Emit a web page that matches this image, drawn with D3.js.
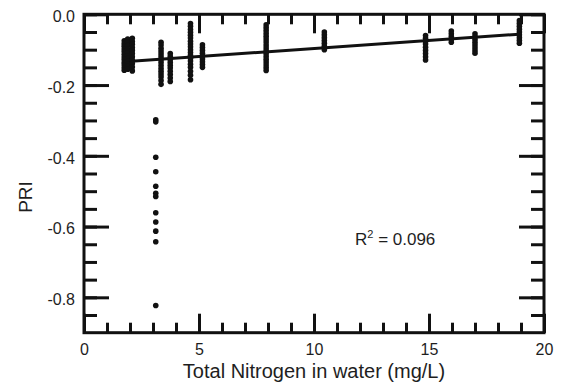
<!DOCTYPE html>
<html>
<head>
<meta charset="utf-8">
<script src="https://cdn.jsdelivr.net/npm/d3@7"></script>
<style>
  html, body { margin: 0; padding: 0; background: #fff; }
  svg { display: block; font-family: Arial, "Liberation Sans", Helvetica, sans-serif; }
</style>
</head>
<body>
<svg id="chart" width="561" height="387"></svg>
<script>
// Sampling sites: total nitrogen concentration (mg/L) and PRI readings at each site
const nitrogen = [1.75, 1.9, 2.1, 3.12, 3.35, 3.75, 4.63, 5.15, 7.92, 10.45, 14.85, 15.97, 17.0, 18.93];
const priValues = [
  [-0.075, -0.083, -0.09, -0.098, -0.105, -0.113, -0.121, -0.128, -0.136, -0.143, -0.151, -0.158],
  [-0.07, -0.079, -0.088, -0.099, -0.109, -0.117, -0.125, -0.133, -0.141, -0.148, -0.155],
  [-0.068, -0.077, -0.085, -0.094, -0.102, -0.111, -0.12, -0.129, -0.139, -0.149, -0.16],
  [-0.298, -0.304, -0.404, -0.445, -0.486, -0.506, -0.515, -0.561, -0.587, -0.613, -0.643, -0.823],
  [-0.079, -0.087, -0.096, -0.104, -0.112, -0.12, -0.128, -0.136, -0.145, -0.153, -0.161, -0.169, -0.177, -0.187, -0.198],
  [-0.111, -0.119, -0.128, -0.136, -0.144, -0.152, -0.161, -0.17, -0.18, -0.19],
  [-0.026, -0.034, -0.043, -0.051, -0.059, -0.067, -0.076, -0.084, -0.092, -0.1, -0.108, -0.116, -0.124, -0.132, -0.141, -0.15, -0.161, -0.172, -0.185],
  [-0.086, -0.094, -0.102, -0.11, -0.118, -0.126, -0.134, -0.142, -0.15],
  [-0.03, -0.038, -0.046, -0.054, -0.062, -0.07, -0.078, -0.087, -0.095, -0.103, -0.111, -0.119, -0.127, -0.135, -0.143, -0.151, -0.159],
  [-0.05, -0.058, -0.066, -0.074, -0.082, -0.09, -0.1],
  [-0.06, -0.068, -0.076, -0.084, -0.093, -0.102, -0.111, -0.12, -0.129],
  [-0.047, -0.055, -0.063, -0.071, -0.079],
  [-0.055, -0.063, -0.071, -0.079, -0.087, -0.095, -0.103, -0.11],
  [-0.018, -0.026, -0.034, -0.042, -0.05, -0.058, -0.066, -0.074, -0.082]
];

// Linear fit of PRI on nitrogen
const fitSlope = 0.00454;
const fitIntercept = -0.142;
const fitLabel = "0.096";

// Axis ticks
const xMajorTicks = [0, 5, 10, 15, 20];
const xMinorTicks = d3.range(0, 21, 1);
const yMajorTicks = [0, -0.2, -0.4, -0.6, -0.8];
const yMinorTicks = d3.range(0, 18).map(i => -i * 0.05);

const points = nitrogen.flatMap((n, i) => priValues[i].map(p => ({ n, p })));

const svg = d3.select("#chart");
const plotLeft = 84, plotRight = 544, plotTop = 14.3, plotBottom = 332.7;

const x = d3.scaleLinear().domain([0, 20]).range([plotLeft, plotRight]);
const y = d3.scaleLinear().domain([-0.9, 0]).range([plotBottom, plotTop]);

const ink = "#111";
const textInk = "#1e1e1e";

function styleAxis(g) {
  g.select(".domain").remove();
  g.selectAll(".tick line").attr("stroke", ink).attr("stroke-width", 3);
  g.selectAll(".tick text").attr("fill", textInk).style("font-size", "16px")
    .style("font-family", "Arial, 'Liberation Sans', Helvetica, sans-serif");
}

// Minor ticks on all four sides
svg.append("g").attr("transform", `translate(0,${plotBottom})`)
  .call(d3.axisBottom(x).tickValues(xMinorTicks).tickSize(-10).tickFormat(""))
  .call(styleAxis);
svg.append("g").attr("transform", `translate(0,${plotTop})`)
  .call(d3.axisTop(x).tickValues(xMinorTicks).tickSize(-10).tickFormat(""))
  .call(styleAxis);
svg.append("g").attr("transform", `translate(${plotLeft},0)`)
  .call(d3.axisLeft(y).tickValues(yMinorTicks).tickSize(-13).tickFormat(""))
  .call(styleAxis);
svg.append("g").attr("transform", `translate(${plotRight},0)`)
  .call(d3.axisRight(y).tickValues(yMinorTicks).tickSize(-13).tickFormat(""))
  .call(styleAxis);

// Major ticks with labels
svg.append("g").attr("transform", `translate(0,${plotBottom})`)
  .call(d3.axisBottom(x).tickValues(xMajorTicks).tickSize(-19).tickPadding(8).tickFormat(d => String(d)))
  .call(styleAxis)
  .call(g => g.selectAll(".tick text").attr("dy", "0.9em"));
svg.append("g").attr("transform", `translate(0,${plotTop})`)
  .call(d3.axisTop(x).tickValues(xMajorTicks).tickSize(-19).tickFormat(""))
  .call(styleAxis);
svg.append("g").attr("transform", `translate(${plotLeft},0)`)
  .call(d3.axisLeft(y).tickValues(yMajorTicks).tickSize(-25).tickPadding(9).tickFormat(d => d.toFixed(1)))
  .call(styleAxis)
  .call(g => g.selectAll(".tick text").attr("dy", "0.45em"));
svg.append("g").attr("transform", `translate(${plotRight},0)`)
  .call(d3.axisRight(y).tickValues(yMajorTicks).tickSize(-25).tickFormat(""))
  .call(styleAxis);

// Plot frame
svg.append("rect")
  .attr("x", plotLeft).attr("y", plotTop)
  .attr("width", plotRight - plotLeft).attr("height", plotBottom - plotTop)
  .attr("fill", "none").attr("stroke", ink).attr("stroke-width", 3);

// Regression line across the sampled nitrogen range
const [nMin, nMax] = d3.extent(nitrogen);
svg.append("line")
  .attr("x1", x(nMin)).attr("y1", y(fitIntercept + fitSlope * nMin))
  .attr("x2", x(nMax)).attr("y2", y(fitIntercept + fitSlope * nMax))
  .attr("stroke", ink).attr("stroke-width", 3);

// Observations
svg.append("g").selectAll("circle").data(points).join("circle")
  .attr("cx", d => x(d.n)).attr("cy", d => y(d.p))
  .attr("r", 2.8).attr("fill", ink);

// R squared annotation
const r2 = svg.append("text").attr("x", 355).attr("y", 245)
  .attr("fill", textInk).style("font-size", "17px");
r2.append("tspan").text("R");
r2.append("tspan").attr("dy", -7).style("font-size", "11px").text("2");
r2.append("tspan").attr("dy", 7).text(" = " + fitLabel);

// Axis titles
svg.append("text")
  .attr("x", (plotLeft + plotRight) / 2).attr("y", 378)
  .attr("text-anchor", "middle").attr("fill", textInk)
  .style("font-size", "20px")
  .text("Total Nitrogen in water (mg/L)");

svg.append("text")
  .attr("transform", "translate(32,197) rotate(-90)")
  .attr("text-anchor", "middle").attr("fill", textInk)
  .style("font-size", "19px")
  .text("PRI");
</script>
</body>
</html>
